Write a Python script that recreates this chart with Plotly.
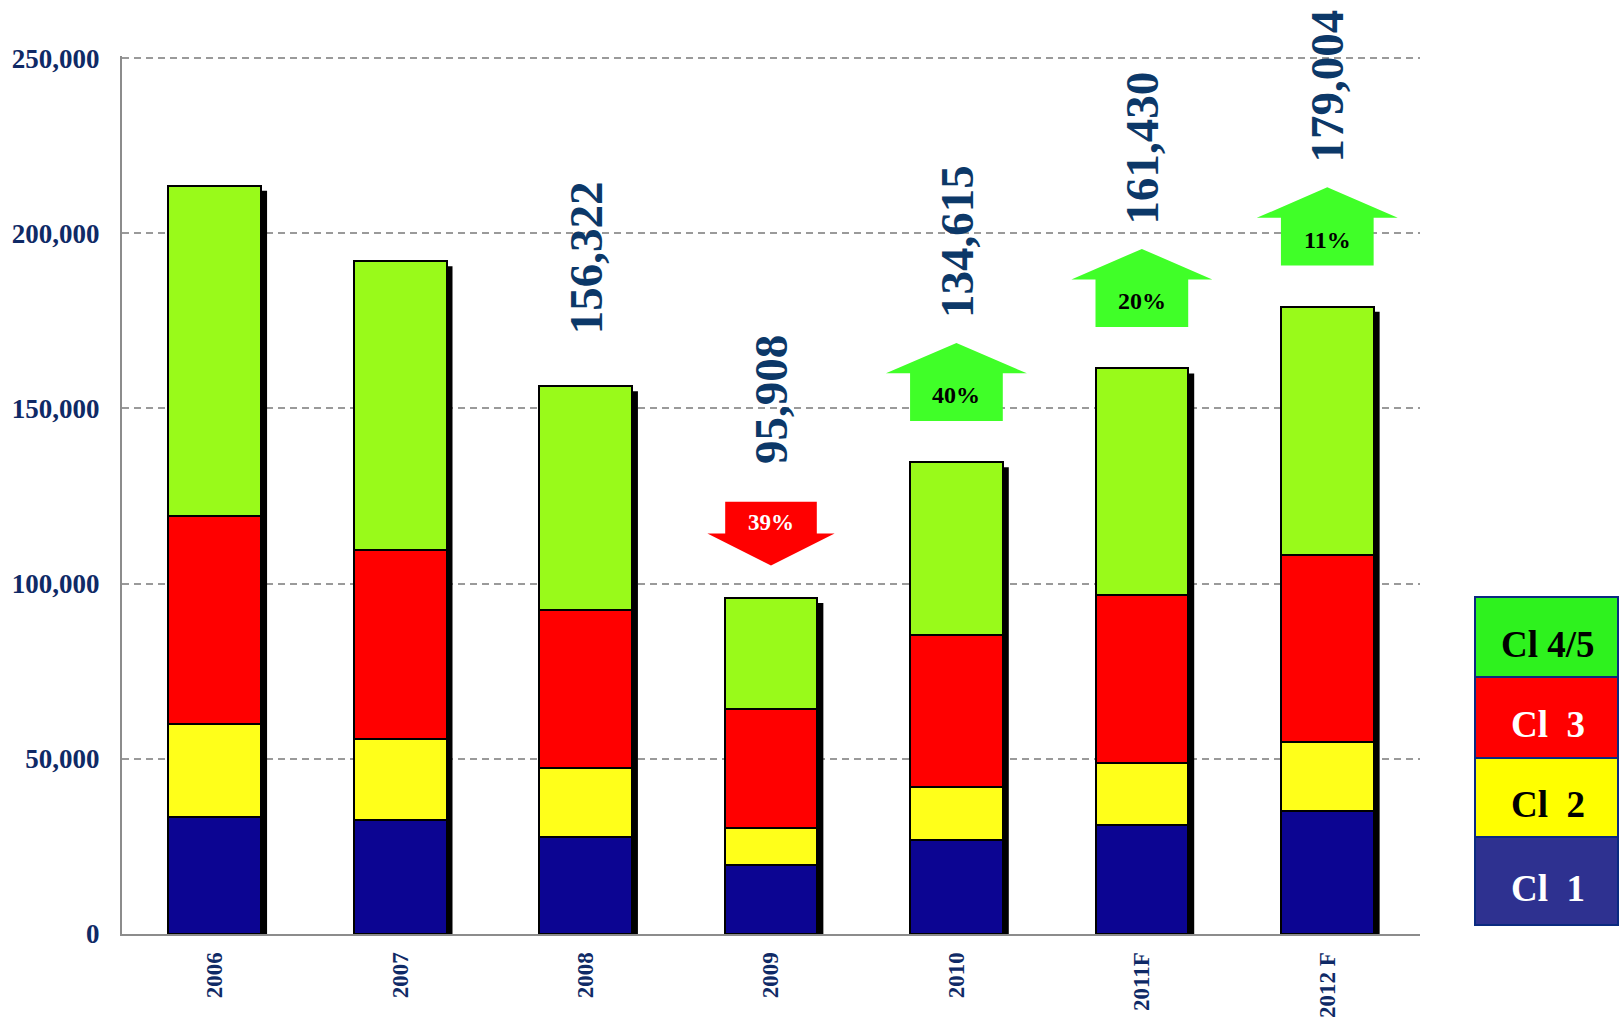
import plotly.graph_objects as go

# ---------------- data ----------------
years = ["2006", "2007", "2008", "2009", "2010", "2011F", "2012 F"]
cl1 = [33300, 32600, 27600, 19700, 26800, 31200, 35000]
cl2 = [26700, 23000, 19800, 10600, 15300, 17600, 19700]
cl3 = [59200, 54100, 45200, 33800, 43200, 48000, 53500]
cl45 = [94400, 82300, 63722, 31808, 49315, 64630, 70804]
show_total = [False, False, True, True, True, True, True]
change_text = ["", "", "", "39%", "40%", "20%", "11%"]
change_dir = [0, 0, 0, -1, 1, 1, 1]
legend_labels = ["Cl 4/5", "Cl  3", "Cl  2", "Cl  1"]

# ---------------- styling / layout constants ----------------
W, H = 1619, 1031
YMAX = 250000
YTOP = 250600
ML, MR, MB = 122, 199, 97
PW = W - ML - MR
PX_PER_Y = 876 / YMAX
MT = int(round(H - MB - YTOP * PX_PER_Y))
PH = H - MT - MB
NAVY = "#0f2a66"
LABEL_NAVY = "#0c3868"
SERIF = "Liberation Serif"
seg_colors = ["#0c0592", "#ffff1a", "#ff0000", "#99fa1a"]
seg_names = ["Cl 1", "Cl 2", "Cl 3", "Cl 4/5"]
BAR_W = 0.5

x = list(range(len(years)))
totals = [a + b + c + d for a, b, c, d in zip(cl1, cl2, cl3, cl45)]

fig = go.Figure()
for vals, col, name in zip([cl1, cl2, cl3, cl45], seg_colors, seg_names):
    fig.add_trace(go.Bar(
        x=x, y=vals, name=name, width=BAR_W,
        marker=dict(color=col, line=dict(color="black", width=2)),
        hoverinfo="y+name",
    ))

# px -> data conversions
px_per_x = PW / len(years)
px_per_y = PH / YTOP
dx = 6 / px_per_x
dy = 5 / px_per_y

shapes = []
annotations = []

# drop shadows
for i, t in enumerate(totals):
    shapes.append(dict(
        type="rect", xref="x", yref="y", layer="between",
        x0=i - BAR_W / 2 + dx, x1=i + BAR_W / 2 + dx, y0=0, y1=t - dy,
        fillcolor="black", line=dict(width=0),
    ))

# arrows & labels
for i, (t, txt, d) in enumerate(zip(totals, change_text, change_dir)):
    if d < 0:
        top = t + 27500
        sh = t + 18400
        tip = t + 9300
        rh, hh = 0.247, 0.343
        path = (f"M {i-rh},{top} L {i+rh},{top} L {i+rh},{sh} L {i+hh},{sh} "
                f"L {i},{tip} L {i-hh},{sh} L {i-rh},{sh} Z")
        shapes.append(dict(type="path", xref="x", yref="y", path=path,
                           fillcolor="#ff0000", line=dict(width=0), layer="above"))
        annotations.append(dict(x=i, y=(top + sh) / 2 - 1400, xref="x", yref="y",
                                text=f"<b>{txt}</b>", showarrow=False,
                                font=dict(family=SERIF, size=23, color="white")))
        label_y = top + 10000
    elif d > 0:
        bot = t + 11800
        sh = bot + 13600
        tip = bot + 22300
        rh, hh = 0.25, 0.38
        path = (f"M {i-rh},{bot} L {i+rh},{bot} L {i+rh},{sh} L {i+hh},{sh} "
                f"L {i},{tip} L {i-hh},{sh} L {i-rh},{sh} Z")
        shapes.append(dict(type="path", xref="x", yref="y", path=path,
                           fillcolor="#40ff28", line=dict(width=0), layer="above"))
        annotations.append(dict(x=i, y=(bot + sh) / 2 + 600, xref="x", yref="y",
                                text=f"<b>{txt}</b>", showarrow=False,
                                font=dict(family=SERIF, size=24, color="black")))
        label_y = tip + 6500
    else:
        label_y = t + 14300
    if show_total[i]:
        annotations.append(dict(
            x=i, y=label_y, xref="x", yref="y", text=f"<b>{t:,}</b>",
            showarrow=False, textangle=-90, yanchor="bottom", xanchor="center",
            font=dict(family=SERIF, size=47, color=LABEL_NAVY),
        ))

# custom legend (boxes at right)
def px2paper_x(p):
    return (p - ML) / PW

def px2paper_y(p):
    return (H - MB - p) / PH

leg_x0, leg_x1 = 1475, 1618
leg_bounds = [597, 677, 758, 837, 925]
leg_fill = ["#2ef21e", "#ff0000", "#ffff00", "#2e3190"]
leg_txt_col = ["black", "white", "black", "white"]
for k in range(4):
    shapes.append(dict(
        type="rect", xref="paper", yref="paper",
        x0=px2paper_x(leg_x0), x1=px2paper_x(leg_x1),
        y0=px2paper_y(leg_bounds[k + 1]), y1=px2paper_y(leg_bounds[k]),
        fillcolor=leg_fill[k], line=dict(color="#0a2a80", width=2), layer="above",
    ))
    annotations.append(dict(
        x=px2paper_x((leg_x0 + leg_x1) / 2 + 1),
        y=px2paper_y((leg_bounds[k] + leg_bounds[k + 1]) / 2 + 7),
        xref="paper", yref="paper", text=f"<b>{legend_labels[k]}</b>",
        showarrow=False, xanchor="center", yanchor="middle",
        font=dict(family=SERIF, size=37, color=leg_txt_col[k]),
    ))

fig.update_layout(
    width=W, height=H,
    margin=dict(l=ML, r=MR, t=MT, b=MB, pad=0, autoexpand=False),
    barmode="stack", bargap=0.5,
    showlegend=False,
    plot_bgcolor="white", paper_bgcolor="white",
    shapes=shapes, annotations=annotations,
    font=dict(family=SERIF),
)
fig.update_xaxes(
    range=[-0.5, len(years) - 0.5], automargin=False,
    tickmode="array", tickvals=x, ticktext=years, tickangle=-90,
    tickfont=dict(family=SERIF, size=23, color=NAVY, weight="bold"),
    showline=True, linecolor="#8c8c8c", linewidth=2,
    showgrid=False, zeroline=False, ticks="", ticklabelstandoff=7,
    fixedrange=True,
)
fig.update_yaxes(
    range=[0, YTOP], automargin=False,
    tickmode="linear", tick0=0, dtick=50000, tickformat=",d",
    tickfont=dict(family=SERIF, size=27, color=NAVY, weight="bold"),
    showline=True, linecolor="#8c8c8c", linewidth=2,
    showgrid=True, gridcolor="#9a9a9a", gridwidth=1.5, griddash="7px,5px",
    zeroline=False, ticks="", ticklabelstandoff=15,
    fixedrange=True,
)

fig.write_html("out.html", config={"displayModeBar": False},
               post_script="document.body.style.margin='0';")
